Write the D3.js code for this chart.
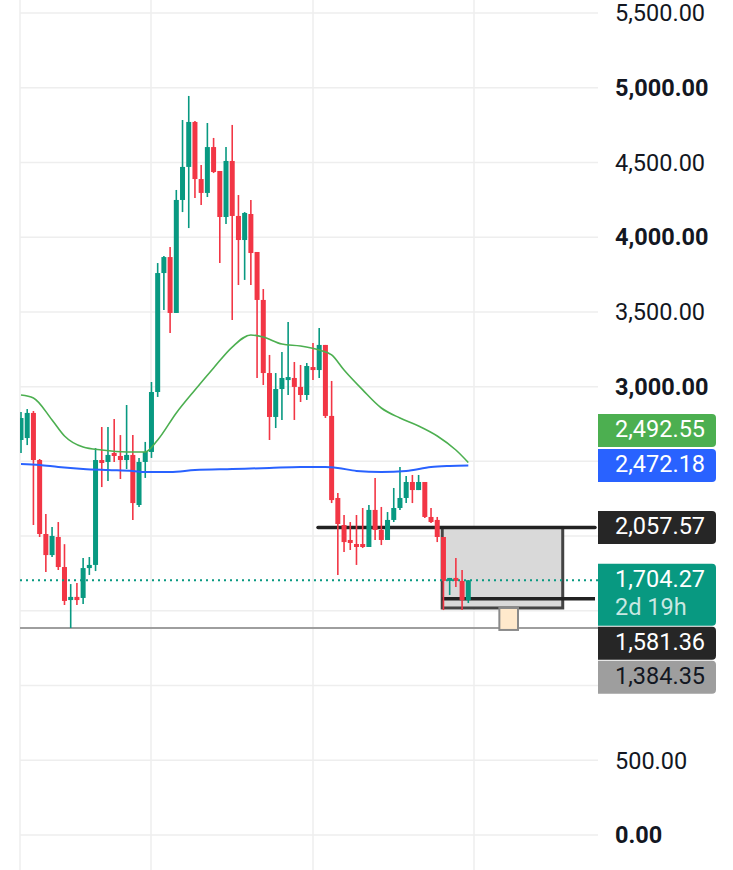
<!DOCTYPE html>
<html lang="en">
<head>
    <meta charset="UTF-8">
    <title>candles</title>
    <script src="https://cdn.jsdelivr.net/npm/d3@7"></script>
    <style>
        body { margin: 0; background: #fff; }
        .axis text {
            font-family: Roboto, sans-serif;
            font-size: 23.5px;
            fill: #131722;
        }
        .tag text {
            font-family: Roboto, sans-serif;
            font-size: 23.5px;
        }
    </style>
</head>
<body>
<script>
	// candle data (oldest -> newest)
	var opens  = [2643, 2656, 2824, 2509, 2014, 1873, 1994, 1793, 1572, 1593, 1586, 1786, 1807, 2509, 2496, 2556, 2536, 2509, 2543, 2208,
		2496, 2563, 2964, 3760, 3867, 3493, 4249, 4470, 4771, 4389, 4296, 4603, 4443, 4135, 4510, 4142, 3981, 4155, 3901, 3580,
		3091, 2797, 2984, 3044, 3058, 2998, 2944, 3131, 3111, 3279, 2804, 2255, 2074, 1974, 1947, 1947, 1927, 2175, 2041, 1974,
		2108, 2188, 2255, 2362, 2308, 2362, 2128, 2108, 1994, 1700, 1720, 1700, 1572];
	var highs  = [2830, 2850, 2837, 2516, 2148, 2061, 2094, 1946, 1679, 1686, 1853, 1860, 2589, 2730, 2730, 2783, 2676, 2877, 2676, 2523,
		2630, 3031, 3827, 3874, 3934, 4316, 4784, 4945, 4777, 4483, 4764, 4664, 4443, 4603, 4751, 4282, 4168, 4249, 3901, 3653,
		3212, 3091, 3232, 3432, 3165, 3145, 3158, 3292, 3392, 3279, 3038, 2288, 2141, 2094, 2141, 2188, 2208, 2389, 2195, 2161,
		2322, 2462, 2402, 2409, 2409, 2362, 2188, 2128, 1994, 1720, 1853, 1773, 1706];
	var lows   = [2556, 2609, 2074, 1994, 1760, 1860, 1773, 1539, 1385, 1539, 1546, 1740, 1766, 2328, 2369, 2496, 2382, 2449, 2108, 2195,
		2389, 2523, 2931, 3513, 3359, 3493, 4168, 4061, 4262, 4215, 4269, 4429, 3827, 4088, 3446, 3680, 3714, 3680, 3058, 3011,
		2643, 2723, 2777, 2944, 2777, 2897, 2911, 3044, 3058, 2790, 2221, 1740, 1894, 1907, 1807, 1920, 1927, 1974, 1940, 1974,
		2094, 2175, 2221, 2221, 2308, 2121, 2088, 1960, 1505, 1606, 1659, 1505, 1552];
	var closes = [2790, 2824, 2509, 2014, 1873, 2001, 1793, 1566, 1593, 1572, 1786, 1807, 2509, 2489, 2543, 2536, 2509, 2543, 2221, 2496,
		2563, 2964, 3760, 3867, 3493, 4249, 4470, 4771, 4389, 4296, 4603, 4436, 4135, 4510, 4142, 3981, 4162, 3894, 3580, 3091,
		2797, 2984, 3058, 3064, 2998, 2944, 3138, 3111, 3279, 2804, 2241, 2081, 1960, 1954, 1927, 1927, 2175, 2041, 1974, 2108,
		2188, 2255, 2362, 2308, 2362, 2128, 2094, 1994, 1700, 1720, 1700, 1572, 1704.27];

	// moving averages, sampled at candle indexes
	var greenIdx = [0, 2, 5, 7, 10, 13, 17, 20, 22, 25, 28, 31, 34, 37, 39, 42, 45, 48, 50, 52, 55, 58, 61, 64, 67, 70, 72];
	var greenMA  = [2944, 2924, 2777, 2670, 2596, 2576, 2563, 2563, 2643, 2824, 2978, 3125, 3265, 3346, 3332, 3285, 3272, 3245,
		3212, 3111, 2978, 2857, 2790, 2737, 2670, 2576, 2492.55];
	var blueIdx = [0, 3, 6, 10, 14, 18, 20, 24, 28, 34, 40, 45, 49, 51, 54, 58, 62, 66, 69, 72];
	var blueMA  = [2482, 2476, 2462, 2449, 2442, 2436, 2429, 2429, 2442, 2449, 2456, 2462, 2462, 2456, 2436, 2429, 2436, 2462,
		2469, 2472.18];

	// price scale
	var tickValues = [0, 500, 1000, 1500, 2000, 2500, 3000, 3500, 4000, 4500, 5000, 5500];
	var boldTicks = [0, 1000, 2000, 3000, 4000, 5000];

	// price tags on the right
	var tagPrices = [2492.55, 2472.18, 2057.57, 1704.27, 1581.36, 1384.35];
	var tagColors = ["#4caf50", "#2962ff", "#262626", "#089981", "#262626", "#9e9e9e"];
	var tagText = ["#ffffff", "#ffffff", "#ffffff", "#ffffff", "#ffffff", "#131722"];
	var countdown = "2d 19h";

	// levels and the position box
	var lastPrice = 1704.27;
	var lowLine = 1384.35;
	var upperLevel = 2057.57;
	var lowerLevel = 1581.36;
	var boxTop = 2057.57, boxBottom = 1519;
	var boxStart = 67.8, boxEnd = 87.2;
	var markerTop = 1519, markerBottom = 1372;
	var markerStart = 77, markerEnd = 80;

	var width = 733;
	var height = 870;
	var plotRight = 598;
	var up = "#089981", down = "#f23645";

	var svg = d3.select("body")
		.append("svg")
		.attr("width", width)
		.attr("height", height);

	var x = d3.scaleLinear().domain([0, closes.length - 1]).range([21, 468.3]);
	var y = d3.scaleLinear().domain([0, 5500]).range([835, 13]);

	svg.append("defs").append("clipPath").attr("id", "plot")
		.append("rect").attr("x", 20).attr("y", 0).attr("width", plotRight - 20).attr("height", height);

	// price tags: stack them so they do not overlap
	var tags = tagPrices.map(function (p, i) {
		var h = p === lastPrice ? 62 : 33;
		return { price: p, i: i, h: h, top: y(p) - 16.5 };
	});
	var below = tags.filter(function (t) { return t.price <= lastPrice; });
	var above = tags.filter(function (t) { return t.price > lastPrice; }).reverse();
	for (var k = 1; k < below.length; k++) {
		below[k].top = Math.max(below[k].top, below[k - 1].top + below[k - 1].h + 1);
	}
	for (k = 1; k < above.length; k++) {
		above[k].top = Math.min(above[k].top, above[k - 1].top - above[k].h - 2);
	}

	// grid
	svg.append("g").selectAll("line")
		.data(tickValues)
		.enter().append("line")
		.attr("x1", 20).attr("x2", plotRight)
		.attr("y1", function (d) { return y(d); })
		.attr("y2", function (d) { return y(d); })
		.attr("stroke", "#eeeeee").attr("stroke-width", 1.5);
	svg.append("g").selectAll("line")
		.data([20, 151, 313, 474])
		.enter().append("line")
		.attr("x1", function (d) { return d; })
		.attr("x2", function (d) { return d; })
		.attr("y1", 0).attr("y2", height)
		.attr("stroke", "#eeeeee").attr("stroke-width", 1.5);

	// axis labels, leaving out the ones hidden behind a tag
	var hidden = function (v) {
		return tags.some(function (t) { return y(v) > t.top - 8 && y(v) < t.top + t.h + 8; });
	};
	var axis = d3.axisRight(y)
		.tickValues(tickValues.filter(function (v) { return !hidden(v); }))
		.tickSize(0)
		.tickPadding(17)
		.tickFormat(d3.format(",.2f"));
	var gAxis = svg.append("g")
		.attr("class", "axis")
		.attr("transform", "translate(" + plotRight + ",0)")
		.call(axis);
	gAxis.select(".domain").remove();
	gAxis.selectAll("text")
		.attr("dy", "0.33em")
		.attr("font-weight", function (d) { return boldTicks.indexOf(d) >= 0 ? "bold" : "normal"; });

	var plot = svg.append("g").attr("clip-path", "url(#plot)");

	// low line
	plot.append("line")
		.attr("x1", 20).attr("x2", plotRight)
		.attr("y1", y(lowLine)).attr("y2", y(lowLine))
		.attr("stroke", "#9e9e9e").attr("stroke-width", 2);

	// position box
	plot.append("rect")
		.attr("x", x(boxStart)).attr("y", y(boxTop))
		.attr("width", x(boxEnd) - x(boxStart))
		.attr("height", y(boxBottom) - y(boxTop))
		.attr("fill", "#d9d9d9")
		.attr("stroke", "#444").attr("stroke-width", 3);
	plot.append("rect")
		.attr("x", x(markerStart)).attr("y", y(markerTop))
		.attr("width", x(markerEnd) - x(markerStart))
		.attr("height", y(markerBottom) - y(markerTop))
		.attr("fill", "#ffe9cc")
		.attr("stroke", "#8a8a8a").attr("stroke-width", 2);

	// levels
	plot.append("line")
		.attr("x1", 318).attr("x2", plotRight - 3)
		.attr("y1", y(upperLevel)).attr("y2", y(upperLevel))
		.attr("stroke", "#222").attr("stroke-width", 3.5).attr("stroke-linecap", "round");
	plot.append("line")
		.attr("x1", x(boxStart)).attr("x2", plotRight - 3)
		.attr("y1", y(lowerLevel)).attr("y2", y(lowerLevel))
		.attr("stroke", "#222").attr("stroke-width", 3.5);

	// candles
	var candles = plot.append("g").selectAll("g")
		.data(closes)
		.enter().append("g")
		.attr("fill", function (d, i) { return d >= opens[i] ? up : down; })
		.attr("stroke", function (d, i) { return d >= opens[i] ? up : down; });
	candles.append("line")
		.attr("x1", function (d, i) { return x(i); })
		.attr("x2", function (d, i) { return x(i); })
		.attr("y1", function (d, i) { return y(highs[i]); })
		.attr("y2", function (d, i) { return y(lows[i]); })
		.attr("stroke-width", 1.6);
	candles.append("rect")
		.attr("stroke", "none")
		.attr("x", function (d, i) { return x(i) - 2.5; })
		.attr("width", 5)
		.attr("y", function (d, i) { return y(Math.max(opens[i], d)); })
		.attr("height", function (d, i) { return Math.max(1.5, Math.abs(y(opens[i]) - y(d))); });

	// moving averages
	var line = d3.line()
		.x(function (d) { return x(d[0]); })
		.y(function (d) { return y(d[1]); })
		.curve(d3.curveMonotoneX);
	plot.append("path")
		.attr("d", line(d3.zip(blueIdx, blueMA)))
		.attr("fill", "none").attr("stroke", "#2962ff").attr("stroke-width", 2);
	plot.append("path")
		.attr("d", line(d3.zip(greenIdx, greenMA)))
		.attr("fill", "none").attr("stroke", "#4caf50").attr("stroke-width", 1.6);

	// last price dotted line
	plot.append("line")
		.attr("x1", 20).attr("x2", plotRight)
		.attr("y1", y(lastPrice)).attr("y2", y(lastPrice))
		.attr("stroke", up).attr("stroke-width", 2)
		.attr("stroke-dasharray", "2 4");

	var tag = svg.append("g").attr("class", "tag").selectAll("g")
		.data(tags)
		.enter().append("g")
		.attr("transform", function (d) { return "translate(598," + d.top + ")"; });
	tag.append("path")
		.attr("d", function (d) {
			var w = 118, r = 4;
			return "M0,0H" + (w - r) + "Q" + w + ",0 " + w + "," + r + "V" + (d.h - r) +
				"Q" + w + "," + d.h + " " + (w - r) + "," + d.h + "H0Z";
		})
		.attr("fill", function (d) { return tagColors[d.i]; });
	tag.append("text")
		.attr("x", 17).attr("y", 23)
		.attr("fill", function (d) { return tagText[d.i]; })
		.text(function (d) { return d3.format(",.2f")(d.price); });
	tag.filter(function (d) { return d.price === lastPrice; })
		.append("text")
		.attr("x", 17).attr("y", 51.5)
		.attr("fill", "rgba(255,255,255,0.78)")
		.text(countdown);
</script>
</body>
</html>
